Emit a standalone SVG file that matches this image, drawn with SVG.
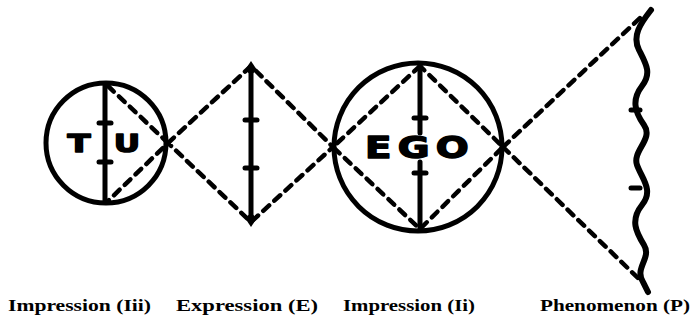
<svg xmlns="http://www.w3.org/2000/svg" width="694" height="324" viewBox="0 0 694 324">
<style>
.solid{fill:none;stroke:#000;stroke-width:5;stroke-linecap:round}
.dash{fill:none;stroke:#000;stroke-width:4.5;stroke-dasharray:8 7;stroke-linecap:round}
.big{font-family:"DejaVu Sans",sans-serif;font-weight:bold;fill:#000;stroke:#000;stroke-width:1.5;stroke-linejoin:round}
.lbl{font-family:"Liberation Serif","DejaVu Serif",serif;font-weight:bold;font-size:16px;fill:#000}
</style>
<rect width="694" height="324" fill="#fff"/>
<g id="connectors">
<path class="dash" d="M108,86 L168,143 L108,201"/>
<path class="dash" d="M168,143 L251,66 L333,147 L251,222 Z"/>
<path class="dash" d="M420,66 L333,147 L420,229 L503,147 Z"/>
<path class="dash" d="M503,147 L640,18"/>
<path class="dash" d="M503,147 L640,280"/>
</g>
<g id="tu">
<circle class="solid" cx="106" cy="143" r="60"/>
<line class="solid" x1="105" y1="84" x2="105" y2="202"/>
<line class="solid" x1="99" y1="123" x2="111" y2="123"/>
<line class="solid" x1="99" y1="162" x2="111" y2="162"/>
<text class="big" font-size="25" text-anchor="middle" transform="translate(79,152) scale(1.35,1)">T</text>
<text class="big" font-size="25" text-anchor="middle" transform="translate(127,152) scale(1.3,1)">U</text>
</g>
<g id="expression">
<line class="solid" x1="251" y1="68" x2="251" y2="220"/>
<polygon points="251,61 257,70 251,75 245,70" fill="#000"/>
<polygon points="251,227 257,218 251,213 245,218" fill="#000"/>
<line class="solid" x1="245" y1="120" x2="257" y2="120"/>
<line class="solid" x1="245" y1="168" x2="257" y2="168"/>
</g>
<g id="ego">
<circle class="solid" cx="418" cy="147" r="84"/>
<line class="solid" x1="420" y1="65" x2="420" y2="133"/>
<line class="solid" x1="420" y1="162" x2="420" y2="230"/>
<line class="solid" x1="414" y1="118" x2="426" y2="118"/>
<line class="solid" x1="414" y1="173" x2="426" y2="173"/>
<text class="big" font-size="31" text-anchor="middle" letter-spacing="5" transform="translate(420,158) scale(1.25,1)">EGO</text>
</g>
<g id="phenomenon">
<path fill="none" stroke="#000" stroke-width="6" stroke-linecap="round" d="M651,10 C640,24 632,36 639,50 C646,64 652,73 642,86 C632,99 634,111 644,125 C654,139 632,151 637,165 C642,179 654,190 642,205 C630,220 636,232 644,245 C652,258 634,268 643,282 L648,292"/>
<line class="solid" x1="631" y1="110" x2="640" y2="110"/>
<line class="solid" x1="631" y1="188" x2="640" y2="188"/>
</g>
<g id="labels">
<text class="lbl" x="8" y="311" textLength="143" lengthAdjust="spacingAndGlyphs">Impression (Iii)</text>
<text class="lbl" x="176" y="311" textLength="142" lengthAdjust="spacingAndGlyphs">Expression (E)</text>
<text class="lbl" x="343" y="311" textLength="132" lengthAdjust="spacingAndGlyphs">Impression (Ii)</text>
<text class="lbl" x="540" y="311" textLength="150" lengthAdjust="spacingAndGlyphs">Phenomenon (P)</text>
</g>
</svg>
